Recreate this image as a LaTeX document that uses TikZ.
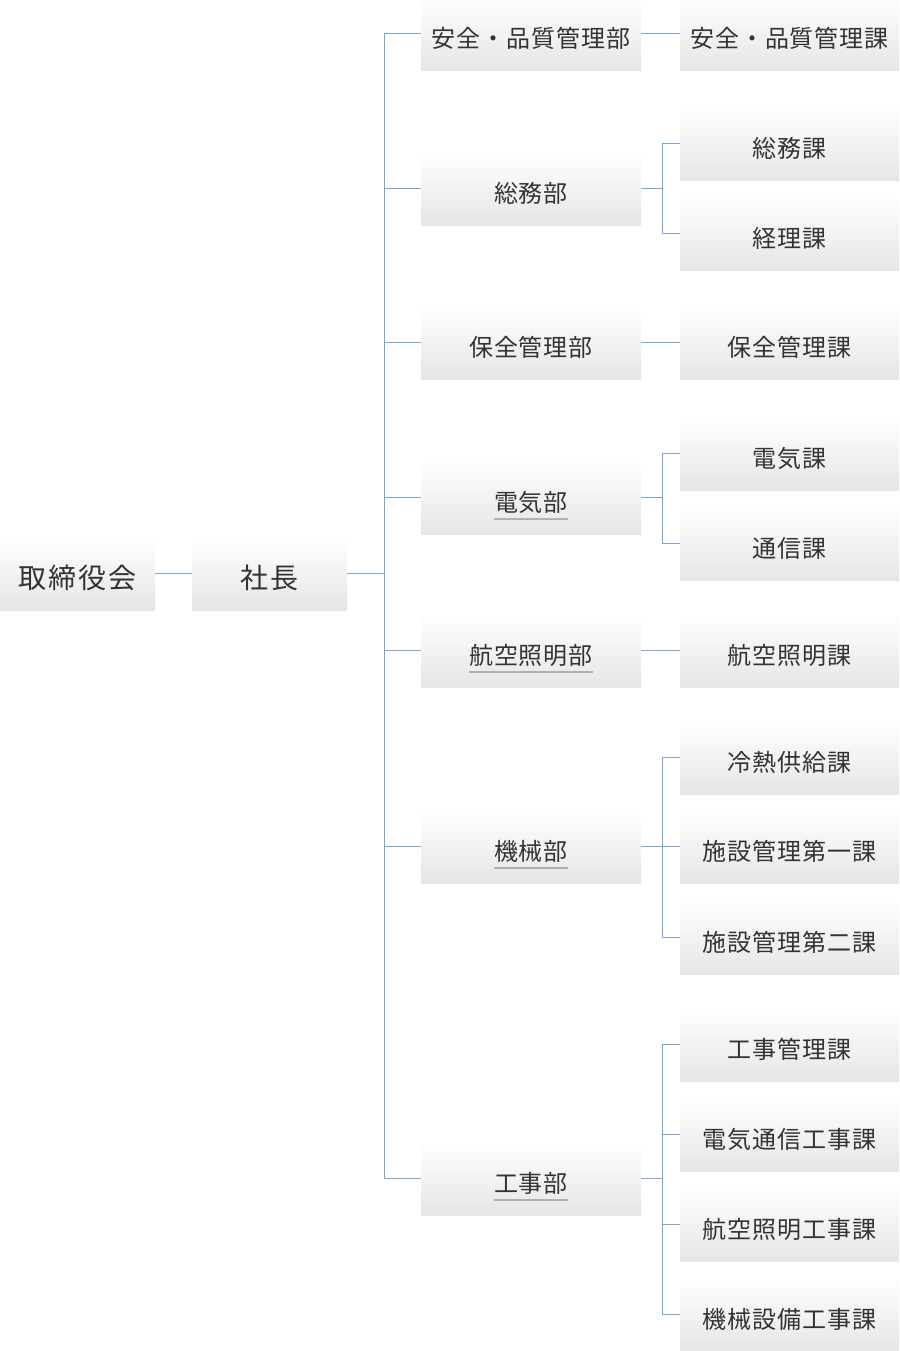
\documentclass[tikz,border=0pt]{standalone}
\usepackage{fontspec}
\usepackage{tikz}
\newfontfamily\jpfont[LetterSpace=4]{Noto Sans CJK JP}
\newfontfamily\jprootfont[LetterSpace=8]{Noto Sans CJK JP}
\definecolor{linkblue}{RGB}{120,167,212}
\definecolor{txtgray}{RGB}{51,51,51}
\definecolor{ulgray}{RGB}{176,176,176}
\newcommand\ulined[1]{\setbox0\hbox{#1}\leavevmode\rlap{\color{ulgray}\rule[-8pt]{\wd0}{1.2pt}}\box0}

\begin{document}
\begin{tikzpicture}[x=1pt,y=-1pt,
	box/.style={inner sep=0pt,minimum height=74pt,top color=white,bottom color=gray!20,draw=none,text=txtgray,text height=29pt,text depth=1pt},
	rootbox/.style={box,minimum width=155pt,font=\jprootfont\fontsize{28}{32}\selectfont,text height=31pt},
	deptbox/.style={box,minimum width=220pt,font=\jpfont\fontsize{24}{28}\selectfont},
	sectbox/.style={box,minimum width=219pt,font=\jpfont\fontsize{24}{28}\selectfont},
	conn/.style={linkblue,line width=1pt}]
		
		\useasboundingbox (0,0) rectangle (899,1351);
		
		% Board + President
		\node[rootbox] (board) at (77.5,573.5) {取締役会};
		\node[rootbox] (pres) at (269.5,573.5) {社長};
		
		% Departments
		\node[deptbox] (anzenD) at (531,33.5) {安全・品質管理部};
		\node[deptbox] (somuD) at (531,188.5) {総務部};
		\node[deptbox] (hozenD) at (531,342.5) {保全管理部};
		\node[deptbox] (denkiD) at (531,497.5) {\ulined{電気部}};
		\node[deptbox] (kokuD) at (531,650.5) {\ulined{航空照明部}};
		\node[deptbox] (kikaiD) at (531,846.5) {\ulined{機械部}};
		\node[deptbox] (kojiD) at (531,1178.5) {\ulined{工事部}};
		
		% Sections
		\node[sectbox] (anzenS) at (789.5,33.5) {安全・品質管理課};
		\node[sectbox] (somuS) at (789.5,143.5) {総務課};
		\node[sectbox] (keiriS) at (789.5,233.5) {経理課};
		\node[sectbox] (hozenS) at (789.5,342.5) {保全管理課};
		\node[sectbox] (denkiS) at (789.5,453.5) {電気課};
		\node[sectbox] (tsushinS) at (789.5,543.5) {通信課};
		\node[sectbox] (kokuS) at (789.5,650.5) {航空照明課};
		\node[sectbox] (reinetsuS) at (789.5,757.5) {冷熱供給課};
		\node[sectbox] (shisetsuAS) at (789.5,846.5) {施設管理第一課};
		\node[sectbox] (shisetsuBS) at (789.5,937.5) {施設管理第二課};
		\node[sectbox] (kojikanS) at (789.5,1044.5) {工事管理課};
		\node[sectbox] (denkitsuS) at (789.5,1134.5) {電気通信工事課};
		\node[sectbox] (kokukojiS) at (789.5,1224.5) {航空照明工事課};
		\node[sectbox] (kikaisetS) at (789.5,1314.5) {機械設備工事課};
		
		% Main trunk
		\coordinate (tr) at (384.5,573.5);
		\draw[conn] (board.east) -- (pres.west);
		\draw[conn] (pres.east) -- (tr);
		\draw[conn] (anzenD.west) -| (tr) |- (kojiD.west);
		\draw[conn] (somuD.west) -- (somuD.west -| tr);
		\draw[conn] (hozenD.west) -- (hozenD.west -| tr);
		\draw[conn] (denkiD.west) -- (denkiD.west -| tr);
		\draw[conn] (kokuD.west) -- (kokuD.west -| tr);
		\draw[conn] (kikaiD.west) -- (kikaiD.west -| tr);
		
		% Single sections
		\draw[conn] (anzenD.east) -- (anzenS.west);
		\draw[conn] (hozenD.east) -- (hozenS.west);
		\draw[conn] (kokuD.east) -- (kokuS.west);
		
		% Grouped sections
		\draw[conn] (somuD.east) -- ++(21.5,0) coordinate(st1);
		\draw[conn] (somuS.west) -| (st1) |- (keiriS.west);
		
		\draw[conn] (denkiD.east) -- ++(21.5,0) coordinate(st2);
		\draw[conn] (denkiS.west) -| (st2) |- (tsushinS.west);
		
		\draw[conn] (kikaiD.east) -- ++(21.5,0) coordinate(st3);
		\draw[conn] (reinetsuS.west) -| (st3) |- (shisetsuBS.west);
		\draw[conn] (st3) -- (shisetsuAS.west);
		
		\draw[conn] (kojiD.east) -- ++(21.5,0) coordinate(st4);
		\draw[conn] (kojikanS.west) -| (st4) |- (kikaisetS.west);
		\draw[conn] (denkitsuS.west) -- (denkitsuS.west -| st4);
		\draw[conn] (kokukojiS.west) -- (kokukojiS.west -| st4);
		
	\end{tikzpicture}
\end{document}
